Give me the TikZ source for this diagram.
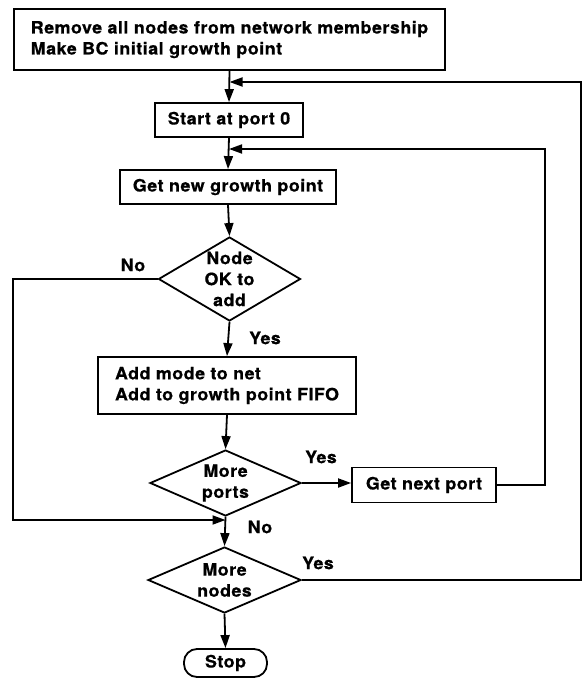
\documentclass[tikz,border=0pt]{standalone}
\usepackage{fontspec}
\setmainfont{TeX Gyre Heros}[FakeStretch=1.05,LetterSpace=3,FakeBold=0.6]
\usepackage{tikz}
\usetikzlibrary{calc,arrows.meta,positioning,shapes}

\begin{document}
\begin{tikzpicture}[x=1pt,y=-1pt,
    every node/.style={font=\fontsize{17}{21}\selectfont\bfseries},
    stepbox/.style={draw,line width=1.8pt,inner sep=0pt},
    decision/.style={diamond,draw,line width=1.8pt,inner sep=0pt},
    flow/.style={line width=1.8pt,-{Triangle[length=13pt,width=9pt]}}]

      \useasboundingbox (0,0) rectangle (582,679);

      % Loop corners on the right and the left side
      \coordinate (outerR) at (581,82);
      \coordinate (innerR) at (545,149);
      \coordinate (leftR) at (13,520);

      % Main column
      \node[stepbox, minimum width=431pt, minimum height=61pt, align=left] (init) at (229.5,39.5)
        {Remove all nodes from network membership\\Make BC initial growth point};
      \node[stepbox, minimum width=148pt, minimum height=34pt] (start) at (229,120) {Start at port 0};
      \node[stepbox, minimum width=216pt, minimum height=34pt] (grow) at (228,187) {Get new growth point};
      \node[decision, minimum width=142pt, minimum height=84pt,
        label={[align=center]center:Node\\OK to\\add}] (okadd) at (229.5,279) {};
      \node[stepbox, minimum width=258pt, minimum height=57pt, align=left] (addnet) at (227,385.5)
        {Add mode to net\\Add to growth point FIFO};
      \node[decision, minimum width=151pt, minimum height=66pt,
        label={[align=center]center:More\\ports}] (moreports) at (225.5,483) {};
      \node[decision, minimum width=153pt, minimum height=66pt,
        label={[align=center]center:More\\nodes}] (morenodes) at (224.5,580) {};
      \node[stepbox, rounded corners=13pt, minimum width=83pt, minimum height=28pt] (stop) at (225.5,663) {Stop};

      % Side box
      \node[stepbox, minimum width=144pt, minimum height=35pt] (nextport) at (424,485) {Get next port};

      % Branch labels
      \node (noA) at (133,265) {No};
      \node (yesA) at (265,338) {Yes};
      \node (yesB) at (321,457) {Yes};
      \node (noB) at (260,527) {No};
      \node (yesC) at (318,563) {Yes};

      % Straight flow down the column
      \draw[flow] (init.south) -- (start.north);
      \draw[flow] (start.south) -- (grow.north);
      \draw[flow] (grow.south) -- (okadd.north);
      \draw[flow] (okadd.south) -- (addnet.north);
      \draw[flow] (addnet.south) -- (moreports.north);
      \draw[flow] (moreports.south) -- (morenodes.north);
      \draw[flow] (morenodes.south) -- (stop.north);

      % Branches and loops
      \draw[flow] (moreports.east) -- (moreports.east -| nextport.west);
      \draw[flow] (okadd.west) -| (leftR) -- (moreports.south |- leftR);
      \draw[flow] (nextport.east) -| (innerR) -- (start.south |- innerR);
      \draw[flow] (morenodes.east) -| (outerR) -- (init.south |- outerR);
    \end{tikzpicture}
\end{document}
